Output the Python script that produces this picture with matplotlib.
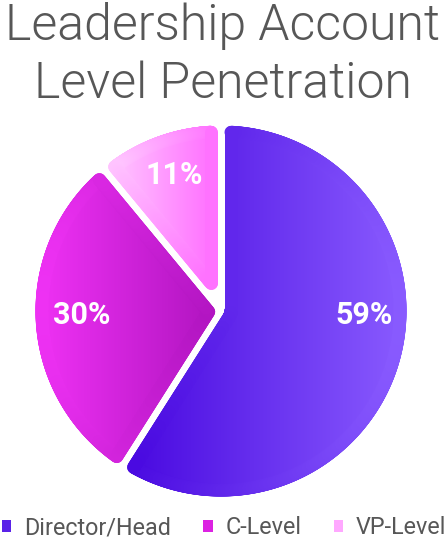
import numpy as np
import matplotlib
matplotlib.use('Agg')
import matplotlib.pyplot as plt
from matplotlib.colors import LinearSegmentedColormap
from matplotlib.patches import Rectangle, Polygon
from matplotlib.collections import LineCollection

# ---- data ----
categories = ['Director/Head', 'C-Level', 'VP-Level']
values = [59, 30, 11]
title_lines = ['Leadership Account', 'Level Penetration']
grad_left = ['#4808e0', '#f032f5', '#ffcaff']
grad_right = ['#8a5cff', '#b014c0', '#ff6cff']
legend_colors = ['#5a22e8', '#dc22e2', '#ffa8ff']

W, H = 445, 544
fig = plt.figure(figsize=(W / 100, H / 100), dpi=100)
fig.patch.set_facecolor('white')

cx, cy, R = 221, 311, 189          # pie centre / radius in pixels
half = 1.1
ax = fig.add_axes([(cx - half * R) / W, (H - cy - half * R) / H,
                   2 * half * R / W, 2 * half * R / H])

wedges, texts, autotexts = ax.pie(
    values, startangle=90, counterclock=False, radius=1,
    autopct='%.0f%%', pctdistance=0.76,
    textprops=dict(color='white', fontsize=22, fontweight='bold',
                   family='Roboto'))

px = 1.0 / R                 # data units per pixel
gap_half = 3.5 * px          # half width of white gap
corner = 6.5 * px            # corner rounding radius
d = gap_half + corner
lw_pt = 2 * 6.5 * 72 / 100


def eroded_boundary(w, d, n=400):
    t1, t2 = np.radians(w.theta1), np.radians(w.theta2)
    c = np.asarray(w.center, dtype=float)
    Ro = w.r - d
    a1 = t1 + np.arcsin(d / Ro)
    a2 = t2 - np.arcsin(d / Ro)
    arc = np.linspace(a1, a2, n)
    outer = np.column_stack([Ro * np.cos(arc), Ro * np.sin(arc)])
    phi = t2 - t1
    if phi < np.pi:
        bis = (t1 + t2) / 2
        inner = (d / np.sin(phi / 2)) * np.array([[np.cos(bis), np.sin(bis)]])
    else:
        ang = np.linspace(t2 - np.pi / 2, t1 + np.pi / 2, 60)
        inner = np.column_stack([d * np.cos(ang), d * np.sin(ang)])
    return np.vstack([outer, inner]) + c


def densify(pts, step):
    closed = np.vstack([pts, pts[:1]])
    out = []
    for a, b in zip(closed[:-1], closed[1:]):
        k = max(1, int(np.ceil(np.hypot(*(b - a)) / step)))
        t = np.linspace(0, 1, k, endpoint=False)[:, None]
        out.append(a + (b - a) * t)
    return np.vstack(out)


grad = np.linspace(0, 1, 256).reshape(1, -1)
for w, c0, c1 in zip(wedges, grad_left, grad_right):
    w.set_visible(False)
    pts = densify(eroded_boundary(w, d), 1.5 * px)
    poly = Polygon(pts, closed=True, facecolor='none', edgecolor='none')
    ax.add_patch(poly)
    x0, x1 = pts[:, 0].min() - corner, pts[:, 0].max() + corner
    y0, y1 = pts[:, 1].min() - corner, pts[:, 1].max() + corner
    cmap = LinearSegmentedColormap.from_list('g', [c0, c1])
    im = ax.imshow(grad, cmap=cmap, extent=[x0, x1, y0, y1],
                   aspect='auto', zorder=1, interpolation='bilinear')
    im.set_clip_path(poly)
    closed = np.vstack([pts, pts[:1]])
    segs = np.stack([closed[:-1], closed[1:]], axis=1)
    xm = segs[:, :, 0].mean(axis=1)
    lc = LineCollection(segs, colors=cmap((xm - x0) / (x1 - x0)),
                        linewidths=lw_pt, capstyle='round',
                        joinstyle='round', zorder=1.5)
    ax.add_collection(lc)

# label placement (pixels relative to pie centre)
label_pos = [(143, 4.5), (-139, 4.5), (-47, -135.5)]
for t, (dx, dy) in zip(autotexts, label_pos):
    t.set_position((dx * px, -dy * px))
    t.set_zorder(4)

ax.set_xlim(-half, half)
ax.set_ylim(-half, half)
ax.set_aspect('equal')
ax.axis('off')

# ---- title ----
for i, line in enumerate(title_lines):
    fig.text(0.5, 1 - (40.5 + 57.5 * i) / H, line, ha='center',
             va='baseline', fontsize=36, fontweight=300, color='#575757',
             family='Roboto')

# ---- legend ----
handles = [Rectangle((0, 0), 1, 1, facecolor=c, edgecolor='none')
           for c in legend_colors]
fig.legend(handles, categories, loc='center left',
           bbox_to_anchor=(2 / W, 16 / H),
           ncol=3, frameon=False, prop=dict(family='Roboto', size=16.8),
           labelcolor='#575757', handlelength=0.4, handleheight=0.4,
           handletextpad=0.55, columnspacing=1.38, borderpad=0,
           borderaxespad=0)

fig.savefig('out.png', dpi=100, facecolor='white')
